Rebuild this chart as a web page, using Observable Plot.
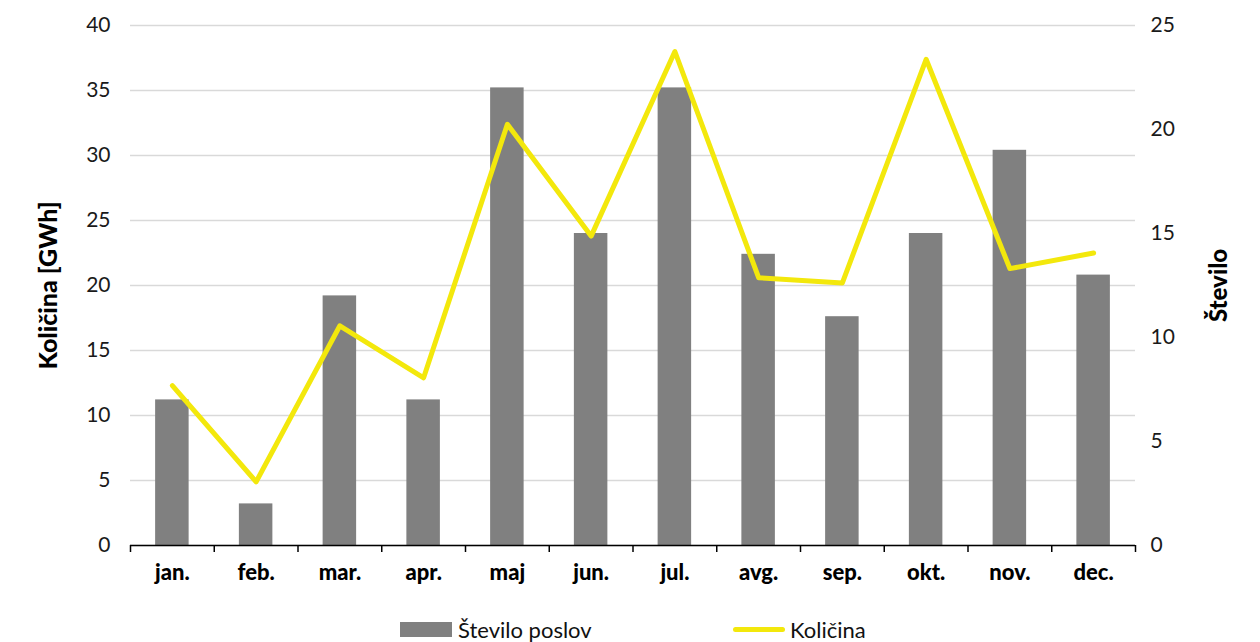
<!DOCTYPE html>
<html>
<head>
<meta charset="utf-8">
<script src="https://cdn.jsdelivr.net/npm/d3@7"></script>
<script src="https://cdn.jsdelivr.net/npm/@observablehq/plot@0.6"></script>
<style>
  body { margin: 0; background: #fff; }
  #wrap { position: relative; width: 1260px; height: 642px; overflow: hidden; font-family: Lato, "Open Sans", sans-serif; }
  #legend { position: absolute; left: 0; top: 600px; width: 1260px; height: 42px; font-size: 22px; color: #111; }
  .item { position: absolute; top: 16px; display: flex; align-items: center; }
  .sw-bar { width: 52px; height: 15px; background: #808080; margin-right: 6px; }
  .sw-line { width: 52px; height: 5px; border-radius: 3px; background: #F3E80C; margin-right: 5px; }
</style>
</head>
<body>
<div id="wrap"><div id="chart"></div>
<div id="legend">
  <div class="item" style="left:400px"><div class="sw-bar"></div><span id="lg1"></span></div>
  <div class="item" style="left:733px"><div class="sw-line"></div><span id="lg2"></span></div>
</div>
</div>
<script>
const months = ["jan.","feb.","mar.","apr.","maj","jun.","jul.","avg.","sep.","okt.","nov.","dec."];
const steviloPoslov = [7, 2, 12, 7, 22, 15, 22, 14, 11, 15, 19, 13];
const kolicina = [12.3, 4.9, 16.9, 12.9, 32.4, 23.8, 38.0, 20.6, 20.2, 37.4, 21.3, 22.5];
const leftTicks = [0, 5, 10, 15, 20, 25, 30, 35, 40];
const rightTicks = [0, 5, 10, 15, 20, 25];
const leftTitle = "Količina [GWh]";
const rightTitle = "Število";
const seriesNames = ["Število poslov", "Količina"];

const leftMax = 40, rightMax = 25;
const ratio = leftMax / rightMax;

const data = months.map((m, i) => ({month: m, count: steviloPoslov[i], qty: kolicina[i]}));

const W = 1260, H = 600, ML = 130, MR = 125, MT = 25, MB = 55;
const step = (W - ML - MR) / months.length;

const chart = Plot.plot({
  width: W, height: H,
  marginLeft: ML, marginRight: MR, marginTop: MT, marginBottom: MB,
  style: {fontFamily: "Lato, 'Open Sans', sans-serif", fontSize: "20px", color: "#1a1a1a", background: "#fff"},
  x: {domain: months, paddingInner: 0.6, paddingOuter: 0.3, align: 0.5, round: false},
  y: {domain: [0, leftMax]},
  marks: [
    Plot.gridY(leftTicks, {stroke: "#d9d9d9", strokeOpacity: 1, strokeWidth: 1.5}),
    Plot.barY(data, {x: "month", y: d => d.count * ratio, fill: "#808080"}),
    Plot.ruleY([0], {stroke: "#000", strokeWidth: 1.5}),
    Plot.axisX({tickSize: 0, tickPadding: 19, fontWeight: 900, fontSize: 22, fill: "#000", label: null}),
    Plot.axisX(months, {tickSize: 7, tickFormat: () => "", dx: -step / 2, label: null, stroke: "#000", strokeWidth: 1.5}),
    Plot.axisX([months[months.length - 1]], {tickSize: 7, tickFormat: () => "", dx: step / 2, label: null, stroke: "#000", strokeWidth: 1.5}),
    Plot.axisY(leftTicks, {anchor: "left", tickSize: 0, tickPadding: 20, label: null, fontSize: 21}),
    Plot.axisY(rightTicks.map(t => t * ratio), {anchor: "right", tickSize: 0, tickPadding: 15, label: null, fontSize: 21, tickFormat: d => String(Math.round(d / ratio)), textAnchor: "start"}),
    Plot.line(data, {x: "month", y: "qty", stroke: "#F3E80C", strokeWidth: 5, strokeLinecap: "round", strokeLinejoin: "round"}),
    Plot.text([leftTitle], {frameAnchor: "left", textAnchor: "middle", dx: -82, rotate: -90, fontWeight: 900, fontSize: 25, fill: "#000"}),
    Plot.text([rightTitle], {frameAnchor: "right", textAnchor: "middle", dx: 84, rotate: -90, fontWeight: 900, fontSize: 24, fill: "#000"})
  ]
});
document.getElementById("chart").appendChild(chart);
document.getElementById("lg1").textContent = seriesNames[0];
document.getElementById("lg2").textContent = seriesNames[1];
</script>
</body>
</html>
